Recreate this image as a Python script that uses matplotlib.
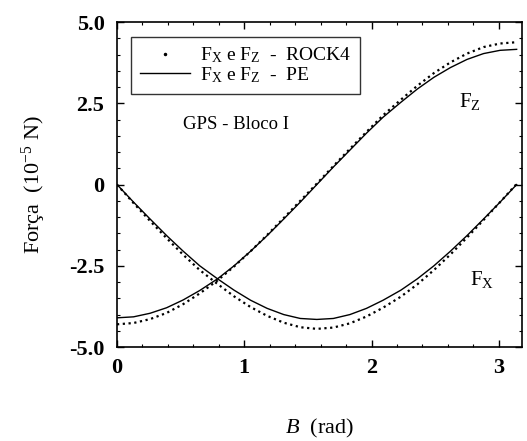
import numpy as np
import matplotlib
matplotlib.use("Agg")
import matplotlib.pyplot as plt
from matplotlib.lines import Line2D
from matplotlib.ticker import MultipleLocator

plt.rcParams['font.family'] = ['Liberation Serif', 'DejaVu Serif']
plt.rcParams['mathtext.fontset'] = 'custom'
plt.rcParams['mathtext.rm'] = 'Liberation Serif'
plt.rcParams['mathtext.it'] = 'Liberation Serif:italic'

# angulo B (rad)
beta = [0.0, 0.13, 0.26, 0.39, 0.52, 0.65, 0.79, 0.92, 1.05, 1.18, 1.31, 1.44, 1.57,
        1.70, 1.83, 1.96, 2.09, 2.23, 2.36, 2.49, 2.62, 2.75, 2.88, 3.01, 3.14]

# Fx e Fz - PE (linha continua)
fx_pe = [0.00, -0.54, -1.06, -1.57, -2.05, -2.50, -2.90, -3.25, -3.56, -3.81, -4.00,
         -4.12, -4.15, -4.12, -4.00, -3.81, -3.56, -3.25, -2.90, -2.50, -2.05, -1.57,
         -1.06, -0.54, 0.00]
fz_pe = [-4.10, -4.07, -3.96, -3.79, -3.55, -3.26, -2.90, -2.50, -2.05, -1.57, -1.06,
         -0.54, 0.00, 0.54, 1.06, 1.58, 2.07, 2.53, 2.94, 3.30, 3.60, 3.85, 4.03,
         4.13, 4.16]

# Fx e Fz - ROCK4 (pontos)
fx_rk = [0.00, -0.57, -1.12, -1.65, -2.16, -2.63, -3.06, -3.44, -3.77, -4.04, -4.25,
         -4.39, -4.44, -4.40, -4.27, -4.06, -3.79, -3.45, -3.07, -2.63, -2.15, -1.63,
         -1.09, -0.54, 0.02]
fz_rk = [-4.30, -4.26, -4.14, -3.95, -3.68, -3.35, -2.95, -2.52, -2.05, -1.55, -1.03,
         -0.50, 0.03, 0.57, 1.10, 1.62, 2.13, 2.61, 3.04, 3.43, 3.76, 4.03, 4.23,
         4.34, 4.38]

fig = plt.figure(figsize=(5.27, 4.41), dpi=100)
ax = fig.add_axes([0.222, 0.213, 0.768, 0.737])

dots = (0, (1, 1.6))
ax.plot(beta, fz_rk, color='black', linestyle=dots, linewidth=1.6)
ax.plot(beta, fx_rk, color='black', linestyle=dots, linewidth=1.6)
ax.plot(beta, fz_pe, color='black', linewidth=1.0)
ax.plot(beta, fx_pe, color='black', linewidth=1.0)

ax.set_xlim(0, 3.18)
ax.set_ylim(-5.0, 5.0)
ax.set_xticks([0, 1, 2, 3])
ax.set_xticklabels(['0', '1', '2', '3'])
ax.set_yticks([-5.0, -2.5, 0, 2.5, 5.0])
ax.set_yticklabels(['-5.0', '-2.5', '0', '2.5', '5.0'])
ax.xaxis.set_minor_locator(MultipleLocator(0.2))
ax.yaxis.set_minor_locator(MultipleLocator(0.5))
ax.tick_params(which='both', direction='in', top=True, right=True, labelsize=16)
ax.tick_params(which='major', length=5, width=1)
ax.tick_params(which='minor', length=2.5, width=0.8)
ax.tick_params(axis='y', pad=9)
ax.tick_params(axis='x', pad=8)
for lab in ax.get_xticklabels() + ax.get_yticklabels():
    lab.set_fontweight('bold')
for sp in ax.spines.values():
    sp.set_linewidth(1.2)

handles = [Line2D([], [], color='black', marker='.', markersize=3, linestyle='none'),
           Line2D([], [], color='black', linewidth=1.0)]
labels = [r'F$_\mathrm{X}$ e F$_\mathrm{Z}$  -  ROCK4',
          r'F$_\mathrm{X}$ e F$_\mathrm{Z}$  -  PE']
leg = ax.legend(handles, labels, loc='upper left', bbox_to_anchor=(0.01, 0.985),
                fontsize=14, numpoints=1, frameon=True, fancybox=False,
                edgecolor='black', handlelength=2.6, borderpad=0.45,
                labelspacing=0.0, handletextpad=0.5)
leg.get_frame().set_linewidth(1.0)

ax.text(0.52, 1.72, 'GPS - Bloco I', fontsize=13.5)
ax.text(2.69, 2.4, r'F$_\mathrm{Z}$', fontsize=15)
ax.text(2.77, -3.1, r'F$_\mathrm{X}$', fontsize=15)

ax.set_ylabel(r'Força  (10$^{-5}$ N)', fontsize=16, labelpad=15)
ax.set_xlabel(r'$B$  (rad)', fontsize=16, labelpad=28)

fig.savefig('out.png', dpi=100)
